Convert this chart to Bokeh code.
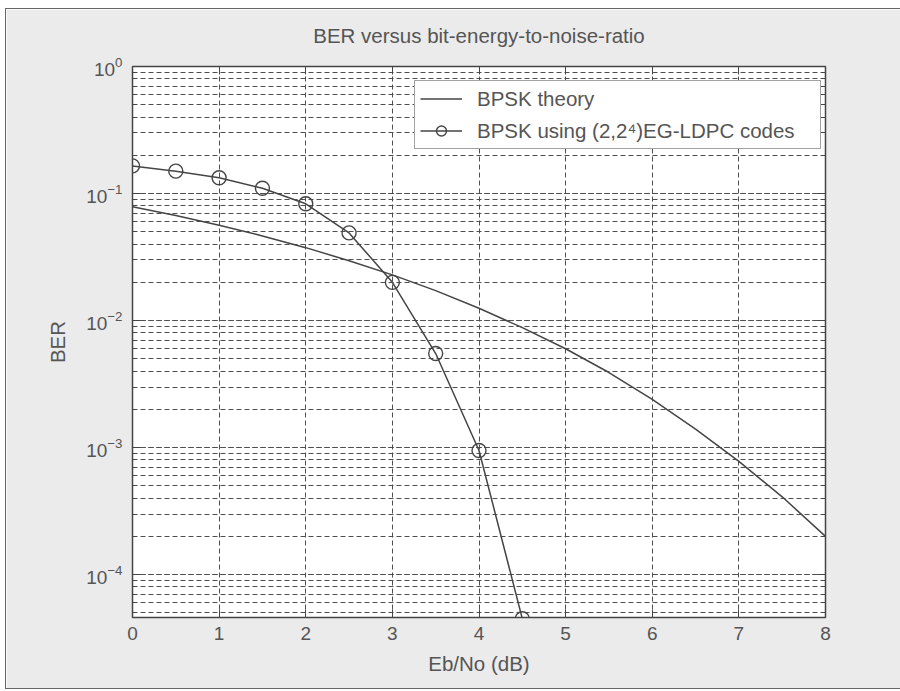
from bokeh.plotting import figure
from bokeh.models import (Range1d, FixedTicker, LogAxis, LinearAxis, Legend, LegendItem,
                          LogTicker)
from bokeh.embed import file_html
from bokeh.resources import INLINE

# ---------------- data ----------------
ebno_theory = [0, 0.5, 1, 1.5, 2, 2.5, 3, 3.5, 4, 4.5, 5, 5.5, 6, 6.5, 7, 7.5, 8]
ber_theory = [0.0786, 0.0671, 0.0563, 0.0464, 0.0375, 0.0296, 0.0229, 0.0172, 0.0125,
              0.0088, 0.0060, 0.0039, 0.0024, 0.0014, 0.00078, 0.00041, 0.00020]
ebno_coded = [0, 0.5, 1, 1.5, 2, 2.5, 3, 3.5, 4, 4.5]
ber_coded = [0.165, 0.150, 0.133, 0.110, 0.083, 0.049, 0.020, 0.0055, 0.00095, 0.000045]
x_ticks = [0, 1, 2, 3, 4, 5, 6, 7, 8]
y_limits = [4.6e-5, 1.0]
series_names = ["BPSK theory", "BPSK using (2,2\u2074)EG-LDPC codes"]
title_text = "BER versus bit-energy-to-noise-ratio"
x_label = "Eb/No (dB)"
y_label = "BER"

FONT = "Liberation Sans"
TXT = "#555555"
LINE = "#454545"
GRID = "#4f4f4f"
FS = "20.5px"

p = figure(width=894, height=679, y_axis_type="log", output_backend="svg",
           toolbar_location=None, x_range=Range1d(x_ticks[0], x_ticks[-1]),
           y_range=Range1d(y_limits[0], y_limits[1]),
           min_border_left=126, min_border_right=75, min_border_top=57, min_border_bottom=71,
           background_fill_color="white", border_fill_color="#ebebeb")
p.outline_line_color = LINE
p.outline_line_width = 1.5

# axes
xa = p.xaxis[0]
xa.ticker = FixedTicker(ticks=x_ticks)
xa.axis_label = x_label
ya = p.yaxis[0]
ya.ticker = LogTicker(num_minor_ticks=10)
ya.axis_label = y_label

ra = LogAxis(ticker=LogTicker(num_minor_ticks=10), major_label_text_alpha=0,
             major_label_text_font_size="2px", major_label_standoff=0)
# top axis carries the chart title as its axis label
ta = LinearAxis(ticker=FixedTicker(ticks=x_ticks), major_label_text_alpha=0,
                major_label_text_font_size="2px", major_label_standoff=0,
                axis_label=title_text, axis_label_standoff=20)
p.add_layout(ra, "right")
p.add_layout(ta, "above")

for ax in (xa, ya, ra, ta):
    ax.axis_line_color = None
    ax.major_tick_in = 8
    ax.major_tick_out = 0
    ax.minor_tick_in = 4
    ax.minor_tick_out = 0
    ax.major_tick_line_color = LINE
    ax.minor_tick_line_color = LINE
    ax.axis_label_text_font = FONT
    ax.axis_label_text_font_size = FS
    ax.axis_label_text_font_style = "normal"
    ax.axis_label_text_color = TXT
for ax in (xa, ya):
    ax.major_label_text_font = FONT
    ax.major_label_text_font_size = "19px"
    ax.major_label_text_color = TXT
xa.minor_tick_line_color = None
ta.minor_tick_line_color = None
xa.major_label_standoff = 9
xa.axis_label_standoff = 9
ya.major_label_standoff = 10
ya.axis_label_standoff = 14

# grid
p.xgrid.ticker = FixedTicker(ticks=x_ticks)
p.xgrid.grid_line_color = GRID
p.xgrid.grid_line_dash = "5 3"
p.xgrid.grid_line_width = 1
p.ygrid.grid_line_color = GRID
p.ygrid.grid_line_dash = "5 3"
p.ygrid.minor_grid_line_color = GRID
p.ygrid.minor_grid_line_dash = "5 3"

# series
r1 = p.line(ebno_theory, ber_theory, line_color=LINE, line_width=1.5)
r2 = p.line(ebno_coded, ber_coded, line_color=LINE, line_width=1.5)
r3 = p.scatter(ebno_coded, ber_coded, marker="circle", size=14, fill_color=None,
               line_color=LINE, line_width=1.4)

legend = Legend(items=[LegendItem(label=series_names[0], renderers=[r1]),
                       LegendItem(label=series_names[1], renderers=[r2, r3])],
                location=(282, 468))
legend.margin = 0
legend.padding = 5
legend.spacing = 7
legend.label_height = 25
legend.glyph_height = 25
legend.glyph_width = 42
legend.label_width = 338
legend.label_standoff = 15
legend.label_text_font = FONT
legend.label_text_font_size = FS
legend.label_text_color = TXT
legend.border_line_color = LINE
legend.border_line_width = 1.5
legend.background_fill_color = "white"
legend.background_fill_alpha = 1.0
p.add_layout(legend)

p.styles = {"outline": "1.5px solid #666666", "margin-top": "9px", "margin-left": "6px"}

open("out.html", "w").write(file_html(p, INLINE))
